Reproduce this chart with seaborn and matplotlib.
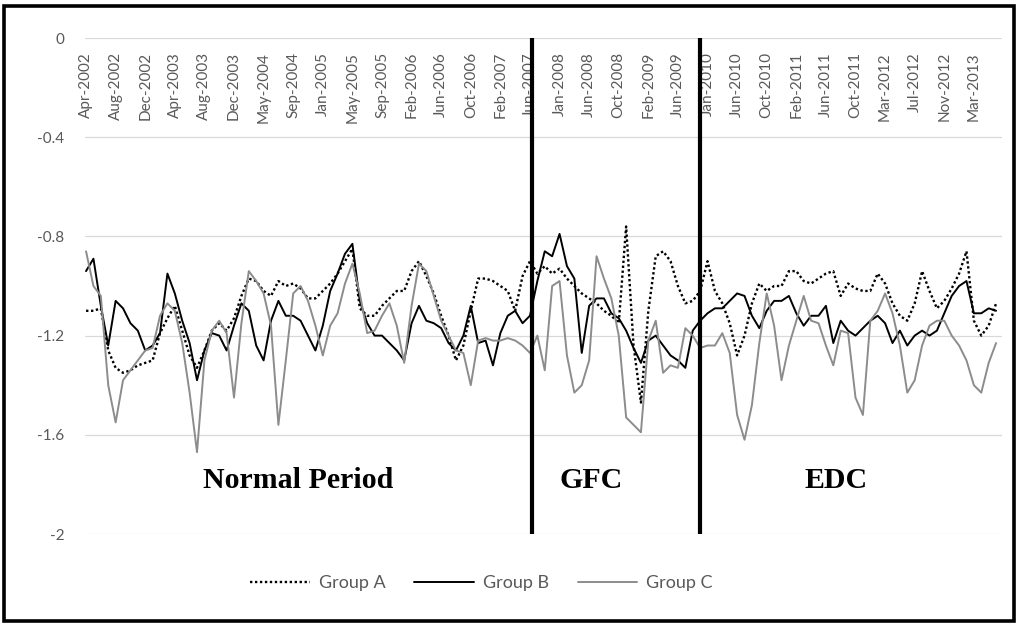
import numpy as np
import matplotlib
matplotlib.use("Agg")
import matplotlib.pyplot as plt
import matplotlib.patches as patches
import seaborn as sns

group_a = [
    -1.10, -1.10, -1.09, -1.26, -1.33, -1.35, -1.34, -1.32, -1.31, -1.30,
    -1.19, -1.13, -1.08, -1.18, -1.28, -1.33, -1.26, -1.18, -1.15, -1.18,
    -1.13, -1.04, -0.97, -0.98, -1.02, -1.04, -0.98, -1.00, -0.99, -1.01,
    -1.05, -1.05, -1.02, -0.99, -0.95, -0.90, -0.85, -1.09, -1.12, -1.12,
    -1.08, -1.05, -1.02, -1.02, -0.94, -0.90, -0.96, -1.03, -1.12, -1.20,
    -1.30, -1.24, -1.10, -0.97, -0.97, -0.98, -1.00, -1.02, -1.10, -0.96,
    -0.90, -0.95, -0.92, -0.95, -0.93, -0.97, -1.00, -1.03, -1.05, -1.07,
    -1.10, -1.12, -1.15, -0.76, -1.24, -1.47, -1.10, -0.88, -0.86, -0.90,
    -1.00, -1.07, -1.06, -1.02, -0.90, -1.02, -1.07, -1.15, -1.28, -1.20,
    -1.07, -0.99, -1.02, -1.00, -1.00, -0.94, -0.94, -0.98, -0.99, -0.97,
    -0.95, -0.94, -1.04, -0.99, -1.01, -1.02, -1.02, -0.95, -0.99, -1.07,
    -1.12, -1.14, -1.07, -0.94, -1.02, -1.09, -1.06, -1.01, -0.95, -0.86,
    -1.14, -1.20, -1.16, -1.07,
]
group_b = [
    -0.94, -0.89, -1.08, -1.24, -1.06, -1.09, -1.15, -1.18, -1.26, -1.24,
    -1.19, -0.95, -1.03, -1.14, -1.23, -1.38, -1.26, -1.19, -1.20, -1.26,
    -1.16, -1.07, -1.10, -1.24, -1.30, -1.14, -1.06, -1.12, -1.12, -1.14,
    -1.20, -1.26, -1.16, -1.02, -0.95, -0.87, -0.83, -1.06, -1.15, -1.20,
    -1.20, -1.23, -1.26, -1.30, -1.15, -1.08, -1.14, -1.15, -1.17, -1.23,
    -1.26, -1.20, -1.08, -1.23, -1.22, -1.32, -1.19, -1.12, -1.10, -1.15,
    -1.12, -0.98, -0.86, -0.88, -0.79, -0.92, -0.97, -1.27, -1.08, -1.05,
    -1.05, -1.11, -1.13, -1.18, -1.25, -1.31, -1.22, -1.20, -1.24, -1.28,
    -1.30, -1.33, -1.18, -1.14, -1.11, -1.09, -1.09, -1.06, -1.03, -1.04,
    -1.12, -1.17, -1.10, -1.06, -1.06, -1.04, -1.11, -1.16, -1.12, -1.12,
    -1.08, -1.23, -1.14, -1.18, -1.20, -1.17, -1.14, -1.12, -1.15, -1.23,
    -1.18, -1.24, -1.20, -1.18, -1.20, -1.18, -1.11, -1.04, -1.00, -0.98,
    -1.11, -1.11, -1.09, -1.10,
]
group_c = [
    -0.86, -1.00, -1.04, -1.40, -1.55, -1.38, -1.34, -1.30, -1.26, -1.25,
    -1.12, -1.07, -1.10, -1.23, -1.43, -1.67, -1.30, -1.18, -1.14, -1.19,
    -1.45, -1.15, -0.94, -0.98, -1.03, -1.16, -1.56, -1.30, -1.03, -1.00,
    -1.06, -1.16, -1.28, -1.16, -1.11, -0.99, -0.91, -1.03, -1.19, -1.18,
    -1.12, -1.07, -1.16, -1.31, -1.08, -0.91, -0.94, -1.04, -1.14, -1.20,
    -1.26, -1.27, -1.40, -1.22, -1.21, -1.22, -1.22, -1.21, -1.22, -1.24,
    -1.27, -1.20, -1.34, -1.00, -0.98, -1.28, -1.43, -1.40, -1.30, -0.88,
    -0.97, -1.05, -1.20, -1.53, -1.56, -1.59, -1.22, -1.14, -1.35, -1.32,
    -1.33, -1.17, -1.20, -1.25, -1.24, -1.24, -1.19, -1.27, -1.52, -1.62,
    -1.48, -1.23, -1.03, -1.16, -1.38, -1.24, -1.14, -1.04, -1.14, -1.15,
    -1.24, -1.32, -1.18, -1.19, -1.45, -1.52, -1.14, -1.10, -1.03, -1.11,
    -1.24, -1.43, -1.38, -1.24, -1.16, -1.14, -1.14, -1.20, -1.24, -1.30,
    -1.40, -1.43, -1.31, -1.23,
]
tick_labels = [
    "Apr-2002", "Aug-2002", "Dec-2002", "Apr-2003", "Aug-2003", "Dec-2003",
    "May-2004", "Sep-2004", "Jan-2005", "May-2005", "Sep-2005", "Feb-2006",
    "Jun-2006", "Oct-2006", "Feb-2007", "Jun-2007", "Jan-2008", "Jun-2008",
    "Oct-2008", "Feb-2009", "Jun-2009", "Jan-2010", "Jun-2010", "Oct-2010",
    "Feb-2011", "Jun-2011", "Oct-2011", "Mar-2012", "Jul-2012", "Nov-2012",
    "Mar-2013",
]
y_ticks = [0, -0.4, -0.8, -1.2, -1.6, -2]
y_tick_labels = ["0", "-0.4", "-0.8", "-1.2", "-1.6", "-2"]

label_step = 4
gfc_start = 60.3
edc_start = 83.0

sns.set_theme(style="white")
plt.rcParams["font.family"] = ["Lato", "DejaVu Sans"]

fig = plt.figure(figsize=(10.2, 6.24), dpi=100)
ax = fig.add_axes([85 / 1020, 1 - 534 / 624, 917 / 1020, 496 / 624])

obs = np.arange(len(group_a))
sns.lineplot(x=obs, y=group_a, ax=ax, color="black", linestyle=(0, (1, 1.1)),
             linewidth=1.7, label="Group A")
sns.lineplot(x=obs, y=group_b, ax=ax, color="black", linewidth=1.4, label="Group B")
sns.lineplot(x=obs, y=group_c, ax=ax, color="#8c8c8c", linewidth=1.4, label="Group C")

# period separators
ax.vlines([gfc_start, edc_start], -2, 0, colors="black", linewidth=3, clip_on=False, zorder=5)

ax.set_xlim(-0.14, 123.8)
ax.set_ylim(-2, 0)
ax.set_yticks(y_ticks)
ax.set_yticklabels(y_tick_labels)
ax.set_xticks(obs[::label_step])
ax.set_xticklabels(tick_labels)
ax.set_xlabel("")
ax.set_ylabel("")

ax.grid(axis="y", color="#d9d9d9", linewidth=0.9)
ax.set_axisbelow(True)
for s in ax.spines.values():
    s.set_visible(False)

ax.tick_params(axis="y", length=0, pad=15, labelsize=11, labelcolor="#595959")
ax.tick_params(axis="x", bottom=False, labelbottom=False, top=False, labeltop=True,
               length=0, pad=-10, labelrotation=90, labelsize=11, labelcolor="#595959")
for lbl in ax.get_xticklabels():
    lbl.set_verticalalignment("top")

serif = dict(family=["Liberation Serif", "DejaVu Serif"], fontweight="bold",
             fontsize=21.5, color="black", ha="center", va="baseline")
ax.text(28.6, -1.815, "Normal Period", **serif)
ax.text(68.2, -1.815, "GFC", **serif)
ax.text(101.4, -1.815, "EDC", **serif)

handles, labels = ax.get_legend_handles_labels()
ax.get_legend().remove()
fig.legend(handles, labels, loc="center", bbox_to_anchor=(0.472, 1 - 583 / 624),
           ncol=3, frameon=False, fontsize=13, labelcolor="#595959",
           handlelength=3.3, columnspacing=1.6, handletextpad=0.5)

fig.patches.append(patches.Rectangle((4 / 1020, 3 / 624), 1010 / 1020, 615 / 624,
                                     transform=fig.transFigure, fill=False,
                                     edgecolor="black", linewidth=2.6))

fig.savefig("out.png", dpi=100, facecolor="white")
